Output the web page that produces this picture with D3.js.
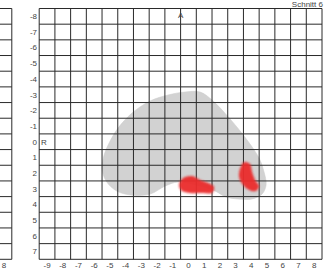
<!DOCTYPE html>
<html><head><meta charset="utf-8">
<script src="https://cdn.jsdelivr.net/npm/d3@7"></script>
<style>body{margin:0;background:#fff}svg{display:block}text{font-family:"Liberation Sans",Arial,sans-serif}</style>
</head><body>
<script>
const title = "Schnitt 6";
const colLabels = [-9,-8,-7,-6,-5,-4,-3,-2,-1,0,1,2,3,4,5,6,7,8];
const rowLabels = [-8,-7,-6,-5,-4,-3,-2,-1,0,1,2,3,4,5,6,7];
// gray region outline (grid units: column, row)
const regionX = [-5.50,-5.37,-5.05,-4.48,-3.59,-2.44,-1.30,-0.22,0.74,1.50,2.65,3.73,4.49,4.81,4.94,4.69,4.05,3.15,2.39,1.69,0.74,-0.66,-1.49,-2.44,-3.53,-4.54,-5.24];
const regionY = [1.68,0.85,0.08,-0.87,-1.83,-2.60,-2.98,-3.17,-3.17,-2.66,-1.45,-0.11,1.04,1.93,2.76,3.33,3.65,3.65,3.52,3.14,2.83,2.57,2.83,3.34,3.41,3.16,2.51];
// red spot 1
const spot1X = [-0.60,-0.34,0.23,0.74,1.25,1.63,1.50,0.87,0.10,-0.41];
const spot1Y = [2.76,2.32,2.19,2.44,2.63,2.89,3.27,3.27,3.27,3.15];
// red spot 2
const spot2X = [3.30,3.55,3.92,4.05,4.24,4.49,4.30,3.86,3.48,3.22];
const spot2Y = [1.68,1.30,1.42,1.93,2.44,2.83,3.14,3.08,2.76,2.25];
const markerA = {label:"A", col:-0.5, row:-8.1};
const markerR = {label:"R", col:-9.2, row:0};

const W = 326, H = 270;
const svg = d3.select("body").append("svg").attr("width", W).attr("height", H);
const x = d3.scaleLinear().domain([-9.5, 8.5]).range([39.2, 322]);
const y = d3.scaleLinear().domain([-8.5, 7.5]).range([8.5, 259.3]);
const xL = d3.scaleLinear().domain([7.5, 8.5]).range([-3.9, 11.8]);

const defs = svg.append("defs");
defs.append("filter").attr("id","blur").attr("x","-30%").attr("y","-30%").attr("width","160%").attr("height","160%")
  .append("feGaussianBlur").attr("stdDeviation", 1.1);

const line = d3.line().x(d => x(d[0])).y(d => y(d[1])).curve(d3.curveCatmullRomClosed.alpha(0.5));
const region = regionX.map((v,i) => [v, regionY[i]]);
svg.append("path").attr("d", line(region)).attr("fill", "#d2d2d2").attr("stroke","#cfcfcf").attr("stroke-width",0.6);

const g = svg.append("g").attr("stroke", "#2a2a2a").attr("stroke-width", 1);
const hEdges = rowLabels.map(r => r - 0.5).concat([rowLabels[rowLabels.length-1] + 0.5]);
const vEdges = colLabels.map(c => c - 0.5).concat([colLabels[colLabels.length-1] + 0.5]);
g.selectAll("line.h").data(hEdges).join("line").attr("class","h")
  .attr("x1", x(vEdges[0])).attr("x2", x(vEdges[vEdges.length-1]))
  .attr("y1", d => y(d)).attr("y2", d => y(d));
g.selectAll("line.v").data(vEdges).join("line").attr("class","v")
  .attr("y1", y(hEdges[0])).attr("y2", y(hEdges[hEdges.length-1]))
  .attr("x1", d => x(d)).attr("x2", d => x(d));
// partial neighbouring panel on the left
g.selectAll("line.lh").data(hEdges).join("line").attr("class","lh")
  .attr("x1", 0).attr("x2", xL(8.5)).attr("y1", d => y(d)).attr("y2", d => y(d));
g.append("line").attr("x1", xL(8.5)).attr("x2", xL(8.5)).attr("y1", y(hEdges[0])).attr("y2", y(hEdges[hEdges.length-1]));

const red = svg.append("g").attr("filter","url(#blur)");
[[spot1X, spot1Y],[spot2X, spot2Y]].forEach(([sx, sy]) => {
  red.append("path").attr("d", line(sx.map((v,i)=>[v, sy[i]]))).attr("fill", "#ea2a2c").attr("opacity", 0.95);
});

const txt = svg.append("g").attr("fill", "#444").attr("font-size", 8);
txt.selectAll("text.row").data(rowLabels).join("text").attr("class","row")
  .attr("x", 37).attr("y", d => y(d)).attr("dy","0.35em").attr("text-anchor","end").text(d => d);
txt.selectAll("text.col").data(colLabels).join("text").attr("class","col")
  .attr("x", d => x(d)).attr("y", 265).attr("dy","0.35em").attr("text-anchor","middle").text(d => d);
txt.append("text").attr("x", xL(8)).attr("y", 265).attr("dy","0.35em").attr("text-anchor","middle").text(colLabels[colLabels.length-1]);
txt.append("text").attr("x", x(markerA.col)).attr("y", y(markerA.row)).attr("dy","0.35em").attr("text-anchor","middle").text(markerA.label);
txt.append("text").attr("x", x(markerR.col)).attr("y", y(markerR.row)).attr("dy","0.35em").attr("text-anchor","middle").text(markerR.label);
txt.append("text").attr("x", 323).attr("y", 6.8).attr("text-anchor","end").text(title);
</script>
</body></html>
